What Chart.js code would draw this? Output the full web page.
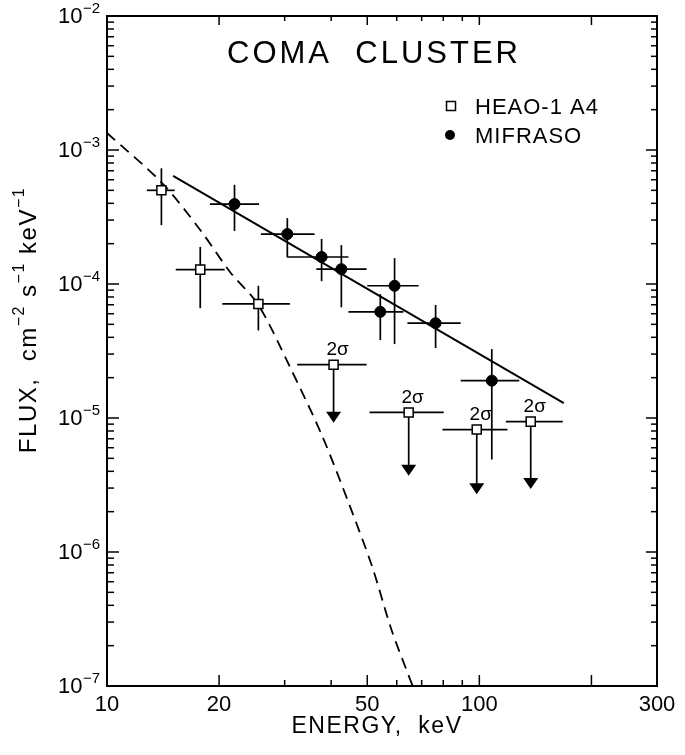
<!DOCTYPE html>
<html>
<head>
<meta charset="utf-8">
<script src="https://cdn.jsdelivr.net/npm/chart.js@4.4.1/dist/chart.umd.min.js"></script>
<style>
  html, body { margin: 0; padding: 0; background: #fff; }
</style>
</head>
<body>
<canvas id="coma" width="685" height="755"></canvas>
<script>
// HEAO-1 A4 detections (keV, flux) with error bars
const heaoE    = [14.0, 17.8, 25.5];
const heaoF    = [5.0e-4, 1.28e-4, 7.1e-5];
const heaoELo  = [12.8, 15.3, 20.4];
const heaoEHi  = [15.2, 20.7, 31.0];
const heaoFLo  = [2.75e-4, 6.6e-5, 4.5e-5];
const heaoFHi  = [7.3e-4, 1.89e-4, 9.7e-5];

// HEAO-1 A4 2 sigma upper limits
const limE   = [40.6, 64.6, 98.4, 137.4];
const limF   = [2.5e-5, 1.1e-5, 8.2e-6, 9.4e-6];
const limELo = [32.4, 50.7, 79.6, 117.8];
const limEHi = [49.8, 80.2, 119, 167.5];
const limTip = [9.2e-6, 3.7e-6, 2.7e-6, 2.95e-6];

// MIFRASO
const mifE   = [22.0, 30.5, 37.7, 42.6, 59.2, 54.2, 76.3, 108];
const mifF   = [3.95e-4, 2.36e-4, 1.59e-4, 1.29e-4, 9.7e-5, 6.2e-5, 5.1e-5, 1.9e-5];
const mifELo = [18.9, 25.9, 30.5, 36.5, 50.0, 44.5, 64.1, 89.1];
const mifEHi = [25.6, 36.1, 44.5, 49.8, 68.7, 62.5, 89.1, 128];
const mifFLo = [2.49e-4, 1.58e-4, 1.05e-4, 6.7e-5, 3.56e-5, 3.82e-5, 3.33e-5, 4.9e-6];
const mifFHi = [5.5e-4, 3.1e-4, 2.17e-4, 1.95e-4, 1.56e-4, 8.4e-5, 6.97e-5, 3.27e-5];

// power law fit (solid) and thermal spectrum (dashed)
const fitE   = [15.05, 168.6];
const fitF   = [6.4e-4, 1.29e-5];
const thermE = [10, 14.06, 17.8, 21.4, 25.5, 31.0, 37.8, 44.5, 51.6, 58.1, 66.2];
const thermF = [1.34e-3, 5.67e-4, 2.53e-4, 1.23e-4, 6.97e-5, 2.40e-5, 7.4e-6, 2.35e-6, 7.7e-7, 2.62e-7, 1.0e-7];

// axes
const xTickLabels = [10, 20, 50, 100, 300];
const xMajorTicks = [20, 50, 100, 200];
const xMinorTicks = [30, 40, 60, 70, 80, 90];
const yDecades = [-7, -6, -5, -4, -3, -2];
const yMinorMult = [2, 3, 4, 5, 6, 7, 8, 9];

const FONT = '"Liberation Sans", Arial, sans-serif';

function pts(xs, ys) {
  return xs.map((x, i) => ({ x: x, y: ys[i] }));
}

function line(c, x1, y1, x2, y2) {
  c.beginPath();
  c.moveTo(x1, y1);
  c.lineTo(x2, y2);
  c.stroke();
}

// draws pieces like [['FLUX, cm', 0], ['−2', 1]] starting at x, middle on y
function richText(c, parts, x, y, size, supSize) {
  parts.forEach(p => {
    c.font = (p[1] ? supSize : size) + 'px ' + FONT;
    c.fillText(p[0], x, p[1] ? y - size * 0.38 : y);
    x += c.measureText(p[0]).width;
  });
}
function richWidth(c, parts, size, supSize) {
  let w = 0;
  parts.forEach(p => {
    c.font = (p[1] ? supSize : size) + 'px ' + FONT;
    w += c.measureText(p[0]).width;
  });
  return w;
}

const errorBars = {
  id: 'errorBars',
  beforeDatasetsDraw(chart) {
    const c = chart.ctx, xs = chart.scales.x, ys = chart.scales.y;
    c.save();
    c.strokeStyle = '#000';
    c.fillStyle = '#000';
    c.lineWidth = 1.7;
    const bars = (E, F, ELo, EHi, FLo, FHi) => {
      E.forEach((e, i) => {
        const x = xs.getPixelForValue(e), y = ys.getPixelForValue(F[i]);
        line(c, xs.getPixelForValue(ELo[i]), y, xs.getPixelForValue(EHi[i]), y);
        line(c, x, ys.getPixelForValue(FHi[i]), x, ys.getPixelForValue(FLo[i]));
      });
    };
    bars(heaoE, heaoF, heaoELo, heaoEHi, heaoFLo, heaoFHi);
    bars(mifE, mifF, mifELo, mifEHi, mifFLo, mifFHi);

    // upper limits with arrows
    limE.forEach((e, i) => {
      const x = xs.getPixelForValue(e), y = ys.getPixelForValue(limF[i]);
      const tip = ys.getPixelForValue(limTip[i]);
      line(c, xs.getPixelForValue(limELo[i]), y, xs.getPixelForValue(limEHi[i]), y);
      line(c, x, y, x, tip - 10);
      c.beginPath();
      c.moveTo(x - 7.5, tip - 11);
      c.lineTo(x + 7.5, tip - 11);
      c.lineTo(x, tip);
      c.closePath();
      c.fill();
      c.font = '19px ' + FONT;
      c.textAlign = 'center';
      c.textBaseline = 'middle';
      c.fillText('2σ', x + 4, y - 15);
    });
    c.restore();
  }
};

const decorations = {
  id: 'decorations',
  afterDraw(chart) {
    const c = chart.ctx, xs = chart.scales.x, ys = chart.scales.y;
    const a = chart.chartArea;
    c.save();
    c.strokeStyle = '#000';
    c.fillStyle = '#000';

    // inward tick marks on all four sides
    c.lineWidth = 1.5;
    yDecades.forEach(d => {
      const y = ys.getPixelForValue(Math.pow(10, d));
      line(c, a.left, y, a.left + 12, y);
      line(c, a.right, y, a.right - 11, y);
      if (d < -2) {
        yMinorMult.forEach(m => {
          const ym = ys.getPixelForValue(m * Math.pow(10, d));
          line(c, a.left, ym, a.left + 7, ym);
          line(c, a.right, ym, a.right - 6, ym);
        });
      }
    });
    xMajorTicks.forEach(v => {
      const x = xs.getPixelForValue(v);
      line(c, x, a.bottom, x, a.bottom - 11);
      line(c, x, a.top, x, a.top + 9);
    });
    xMinorTicks.forEach(v => {
      const x = xs.getPixelForValue(v);
      line(c, x, a.bottom, x, a.bottom - 6);
      line(c, x, a.top, x, a.top + 5);
    });

    // frame
    c.lineWidth = 2;
    c.strokeRect(a.left, a.top, a.right - a.left, a.bottom - a.top);

    // y tick labels 10^n
    c.textBaseline = 'middle';
    c.textAlign = 'left';
    yDecades.forEach(d => {
      const y = ys.getPixelForValue(Math.pow(10, d));
      c.font = '15px ' + FONT;
      const exp = '−' + Math.abs(d);
      const ew = c.measureText(exp).width;
      c.fillText(exp, 100 - ew, y - 7);
      c.font = '22px ' + FONT;
      const bw = c.measureText('10').width;
      c.fillText('10', 100 - ew - bw - 0.5, y + 0.5);
    });

    // y axis title
    const yTitle = [['FLUX,  cm', 0], ['−2', 1], [' s', 0], ['−1', 1], [' keV', 0], ['−1', 1]];
    c.save();
    c.translate(29, 320);
    c.rotate(-Math.PI / 2);
    c.letterSpacing = '1.5px';
    const tw = richWidth(c, yTitle, 24, 16);
    richText(c, yTitle, -tw / 2, 0, 24, 16);
    c.restore();

    // x axis title
    c.textAlign = 'center';
    c.font = '23px ' + FONT;
    c.letterSpacing = '1.5px';
    c.fillText('ENERGY,  keV', 377, 727);

    // chart title
    c.font = '31px ' + FONT;
    c.letterSpacing = '3px';
    c.fillText('COMA  CLUSTER', 374, 54);

    // legend
    c.letterSpacing = '1px';
    c.textAlign = 'left';
    c.font = '22px ' + FONT;
    c.lineWidth = 1.5;
    c.fillStyle = '#fff';
    c.fillRect(446.5, 101.5, 9, 9);
    c.strokeRect(446.5, 101.5, 9, 9);
    c.fillStyle = '#000';
    c.fillText('HEAO-1 A4', 475, 108);
    c.beginPath();
    c.arc(450, 135, 5, 0, Math.PI * 2);
    c.fill();
    c.fillText('MIFRASO', 475, 137);
    c.restore();
  }
};

const ctx = document.getElementById('coma');
new Chart(ctx, {
  type: 'scatter',
  data: {
    datasets: [
      {
        label: 'HEAO-1 A4',
        data: pts(heaoE, heaoF),
        pointStyle: 'rect',
        pointRadius: 6.4,
        backgroundColor: '#fff',
        borderColor: '#000',
        borderWidth: 1.5,
        order: 0
      },
      {
        label: 'HEAO-1 A4 upper limits',
        data: pts(limE, limF),
        pointStyle: 'rect',
        pointRadius: 6.4,
        backgroundColor: '#fff',
        borderColor: '#000',
        borderWidth: 1.5,
        order: 0
      },
      {
        label: 'MIFRASO',
        data: pts(mifE, mifF),
        pointStyle: 'circle',
        pointRadius: 5.5,
        backgroundColor: '#000',
        borderColor: '#000',
        borderWidth: 1,
        order: 0
      },
      {
        label: 'power law',
        type: 'line',
        data: pts(fitE, fitF),
        showLine: true,
        borderColor: '#000',
        borderWidth: 2,
        pointRadius: 0,
        order: 1
      },
      {
        label: 'thermal',
        type: 'line',
        data: pts(thermE, thermF),
        showLine: true,
        borderColor: '#000',
        borderWidth: 1.8,
        borderDash: [11, 7],
        pointRadius: 0,
        tension: 0.3,
        order: 1
      }
    ]
  },
  options: {
    responsive: false,
    animation: false,
    devicePixelRatio: 1,
    layout: { padding: { left: 0, right: 28, top: 16, bottom: 0 } },
    plugins: { legend: { display: false }, tooltip: { enabled: false } },
    scales: {
      x: {
        type: 'logarithmic',
        min: 10,
        max: 300,
        grid: { display: false, drawTicks: false },
        border: { display: false },
        afterBuildTicks: s => { s.ticks = xTickLabels.map(v => ({ value: v })); },
        ticks: {
          autoSkip: false,
          maxRotation: 0,
          padding: 6,
          color: '#000',
          font: { family: FONT, size: 22 },
          callback: v => String(v)
        },
        afterFit: s => { s.height = 69; }
      },
      y: {
        type: 'logarithmic',
        min: 1e-7,
        max: 1e-2,
        grid: { display: false, drawTicks: false },
        border: { display: false },
        ticks: { display: false },
        afterFit: s => { s.width = 107; }
      }
    }
  },
  plugins: [errorBars, decorations]
});
</script>
</body>
</html>
